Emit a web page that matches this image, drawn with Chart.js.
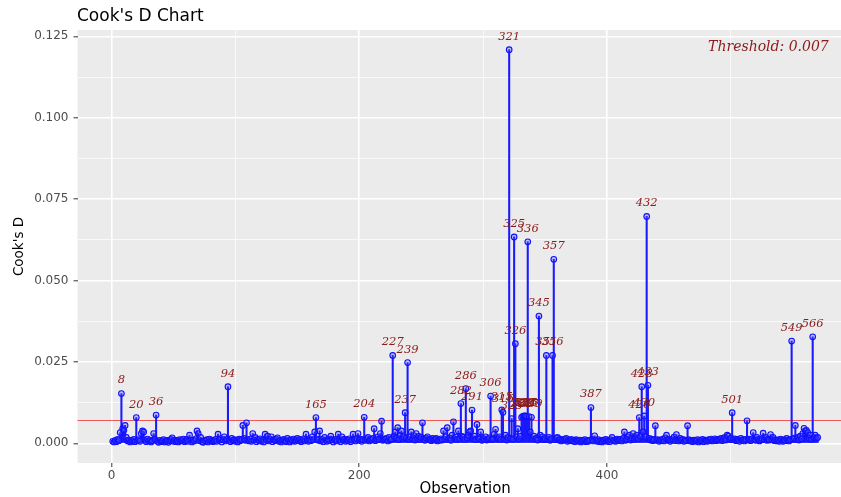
<!DOCTYPE html>
<html>
<head>
<meta charset="utf-8">
<script src="https://cdn.jsdelivr.net/npm/chart.js@4"></script>
<style>
html, body { margin: 0; padding: 0; background: #fff; overflow: hidden; }
#wrap { width: 858px; height: 497px; }
</style>
</head>
<body>
<div id="wrap"><canvas id="cooksd" width="858" height="497"></canvas></div>
<script>
// Cook's distance per observation (observation = index + 1)
var cooksD = [
  0.0006, 0.0004, 0.0009, 0.0005, 0.0012, 0.0008, 0.0033, 0.0153, 0.0045, 0.0040,
  0.0055, 0.0018, 0.0007, 0.0010, 0.0004, 0.0009, 0.0006, 0.0012, 0.0005, 0.0079,
  0.0008, 0.0011, 0.0006, 0.0030, 0.0038, 0.0035, 0.0009, 0.0005, 0.0013, 0.0007,
  0.0010, 0.0004, 0.0008, 0.0030, 0.0012, 0.0087, 0.0006, 0.0003, 0.0009, 0.0005,
  0.0007, 0.0011, 0.0004, 0.0006, 0.0009, 0.0003, 0.0008, 0.0012, 0.0017, 0.0006,
  0.0010, 0.0005, 0.0008, 0.0004, 0.0011, 0.0007, 0.0009, 0.0013, 0.0005, 0.0008,
  0.0012, 0.0006, 0.0025, 0.0009, 0.0004, 0.0010, 0.0007, 0.0014, 0.0038, 0.0030,
  0.0008, 0.0018, 0.0005, 0.0003, 0.0009, 0.0006, 0.0011, 0.0004, 0.0013, 0.0007,
  0.0010, 0.0005, 0.0008, 0.0012, 0.0006, 0.0028, 0.0009, 0.0014, 0.0004, 0.0011,
  0.0020, 0.0007, 0.0012, 0.0174, 0.0009, 0.0005, 0.0015, 0.0008, 0.0011, 0.0006,
  0.0010, 0.0004, 0.0013, 0.0008, 0.0012, 0.0055, 0.0015, 0.0009, 0.0063, 0.0011,
  0.0007, 0.0013, 0.0006, 0.0030, 0.0010, 0.0018, 0.0005, 0.0012, 0.0008, 0.0014,
  0.0006, 0.0010, 0.0004, 0.0028, 0.0009, 0.0022, 0.0007, 0.0012, 0.0020, 0.0005,
  0.0011, 0.0008, 0.0013, 0.0017, 0.0006, 0.0010, 0.0004, 0.0009, 0.0012, 0.0007,
  0.0005, 0.0015, 0.0009, 0.0004, 0.0011, 0.0007, 0.0013, 0.0006, 0.0010, 0.0015,
  0.0008, 0.0012, 0.0005, 0.0009, 0.0014, 0.0007, 0.0028, 0.0010, 0.0006, 0.0012,
  0.0008, 0.0020, 0.0011, 0.0035, 0.0079, 0.0013, 0.0009, 0.0038, 0.0007, 0.0012,
  0.0005, 0.0018, 0.0010, 0.0006, 0.0013, 0.0008, 0.0022, 0.0011, 0.0004, 0.0009,
  0.0012, 0.0007, 0.0028, 0.0010, 0.0005, 0.0020, 0.0009, 0.0013, 0.0006, 0.0011,
  0.0008, 0.0014, 0.0005, 0.0010, 0.0028, 0.0012, 0.0007, 0.0015, 0.0030, 0.0009,
  0.0013, 0.0006, 0.0011, 0.0080, 0.0009, 0.0014, 0.0018, 0.0007, 0.0012, 0.0010,
  0.0015, 0.0045, 0.0008, 0.0013, 0.0020, 0.0011, 0.0030, 0.0068, 0.0009, 0.0014,
  0.0012, 0.0015, 0.0007, 0.0018, 0.0010, 0.0013, 0.0270, 0.0022, 0.0035, 0.0016,
  0.0048, 0.0011, 0.0025, 0.0038, 0.0014, 0.0020, 0.0094, 0.0017, 0.0248, 0.0012,
  0.0019, 0.0035, 0.0013, 0.0024, 0.0010, 0.0030, 0.0015, 0.0021, 0.0012, 0.0018,
  0.0063, 0.0014, 0.0009, 0.0016, 0.0020, 0.0011, 0.0013, 0.0008, 0.0015, 0.0010,
  0.0012, 0.0015, 0.0007, 0.0011, 0.0009, 0.0014, 0.0010, 0.0038, 0.0013, 0.0020,
  0.0048, 0.0012, 0.0016, 0.0009, 0.0025, 0.0066, 0.0014, 0.0019, 0.0011, 0.0038,
  0.0015, 0.0122, 0.0021, 0.0018, 0.0012, 0.0168, 0.0016, 0.0025, 0.0035, 0.0038,
  0.0102, 0.0014, 0.0022, 0.0011, 0.0058, 0.0016, 0.0013, 0.0035, 0.0009, 0.0015,
  0.0012, 0.0020, 0.0010, 0.0014, 0.0017, 0.0145, 0.0011, 0.0015, 0.0028, 0.0043,
  0.0013, 0.0016, 0.0020, 0.0012, 0.0103, 0.0095, 0.0014, 0.0025, 0.0010, 0.0018,
  0.1209, 0.0015, 0.0076, 0.0012, 0.0634, 0.0306, 0.0020, 0.0045, 0.0013, 0.0022,
  0.0080, 0.0083, 0.0084, 0.0084, 0.0083, 0.0619, 0.0082, 0.0035, 0.0080, 0.0014,
  0.0022, 0.0012, 0.0016, 0.0010, 0.0391, 0.0025, 0.0013, 0.0020, 0.0011, 0.0015,
  0.0270, 0.0012, 0.0018, 0.0009, 0.0014, 0.0270, 0.0565, 0.0011, 0.0016, 0.0018,
  0.0010, 0.0013, 0.0007, 0.0011, 0.0009, 0.0012, 0.0015, 0.0006, 0.0010, 0.0008,
  0.0012, 0.0007, 0.0009, 0.0005, 0.0011, 0.0008, 0.0006, 0.0010, 0.0004, 0.0009,
  0.0007, 0.0011, 0.0005, 0.0008, 0.0006, 0.0010, 0.0110, 0.0012, 0.0007, 0.0023,
  0.0009, 0.0006, 0.0011, 0.0005, 0.0008, 0.0004, 0.0010, 0.0007, 0.0012, 0.0006,
  0.0009, 0.0005, 0.0011, 0.0018, 0.0007, 0.0010, 0.0006, 0.0013, 0.0008, 0.0011,
  0.0012, 0.0007, 0.0015, 0.0035, 0.0009, 0.0013, 0.0020, 0.0025, 0.0010, 0.0016,
  0.0030, 0.0012, 0.0018, 0.0025, 0.0014, 0.0079, 0.0022, 0.0174, 0.0035, 0.0084,
  0.0020, 0.0697, 0.0178, 0.0015, 0.0010, 0.0013, 0.0008, 0.0012, 0.0054, 0.0009,
  0.0011, 0.0006, 0.0010, 0.0008, 0.0013, 0.0007, 0.0017, 0.0025, 0.0009, 0.0012,
  0.0006, 0.0010, 0.0014, 0.0019, 0.0008, 0.0027, 0.0011, 0.0007, 0.0015, 0.0009,
  0.0012, 0.0006, 0.0010, 0.0008, 0.0054, 0.0011, 0.0007, 0.0009, 0.0005, 0.0010,
  0.0008, 0.0006, 0.0011, 0.0004, 0.0009, 0.0007, 0.0012, 0.0005, 0.0010, 0.0008,
  0.0006, 0.0011, 0.0009, 0.0013, 0.0007, 0.0010, 0.0014, 0.0008, 0.0012, 0.0009,
  0.0011, 0.0015, 0.0008, 0.0013, 0.0018, 0.0010, 0.0025, 0.0022, 0.0012, 0.0016,
  0.0094, 0.0011, 0.0014, 0.0008, 0.0012, 0.0010, 0.0006, 0.0015, 0.0009, 0.0011,
  0.0007, 0.0012, 0.0069, 0.0010, 0.0013, 0.0008, 0.0014, 0.0033, 0.0011, 0.0009,
  0.0018, 0.0012, 0.0007, 0.0010, 0.0014, 0.0031, 0.0011, 0.0018, 0.0009, 0.0013,
  0.0010, 0.0027, 0.0012, 0.0018, 0.0008, 0.0011, 0.0007, 0.0010, 0.0006, 0.0013,
  0.0009, 0.0006, 0.0011, 0.0008, 0.0015, 0.0010, 0.0007, 0.0012, 0.0314, 0.0013,
  0.0016, 0.0055, 0.0012, 0.0018, 0.0010, 0.0022, 0.0014, 0.0030, 0.0046, 0.0038,
  0.0040, 0.0033, 0.0015, 0.0025, 0.0012, 0.0327, 0.0018, 0.0025, 0.0015, 0.0018
];
var threshold = 0.007;

var xTicks = [0, 100, 200, 300, 400, 500];
var xTickLabels = ['0', '', '200', '', '400', ''];
var yTicks = [0, 0.0125, 0.025, 0.0375, 0.05, 0.0625, 0.075, 0.0875, 0.1, 0.1125, 0.125];
var yTickLabels = ['0.000', '', '0.025', '', '0.050', '', '0.075', '', '0.100', '', '0.125'];

var points = cooksD.map(function(v, i) { return { x: i + 1, y: v }; });

var ggLook = {
    id: 'ggLook',
    beforeDraw: function(chart) {
        var ctx = chart.ctx, a = chart.chartArea;
        ctx.save();
        ctx.fillStyle = '#ffffff';
        ctx.fillRect(0, 0, chart.width, chart.height);
        ctx.fillStyle = '#EBEBEB';
        ctx.fillRect(a.left, a.top, a.right - a.left, a.bottom - a.top);
        ctx.restore();
    },
    beforeDatasetsDraw: function(chart) {
        var ctx = chart.ctx, a = chart.chartArea;
        var y = chart.scales.y.getPixelForValue(threshold);
        ctx.save();
        ctx.strokeStyle = 'rgba(240,40,40,0.75)';
        ctx.lineWidth = 1.2;
        ctx.beginPath();
        ctx.moveTo(a.left, y);
        ctx.lineTo(a.right, y);
        ctx.stroke();
        ctx.restore();
    },
    afterDatasetsDraw: function(chart) {
        var ctx = chart.ctx;
        var xs = chart.scales.x, ys = chart.scales.y;
        ctx.save();
        ctx.font = 'italic 11.5px "DejaVu Serif"';
        ctx.fillStyle = '#8B1A1A';
        ctx.textAlign = 'center';
        ctx.textBaseline = 'middle';
        cooksD.forEach(function(v, i) {
            if (v > threshold) {
                ctx.fillText(String(i + 1), xs.getPixelForValue(i + 1), ys.getPixelForValue(v) - 13);
            }
        });
        ctx.restore();
    },
    afterDraw: function(chart) {
        var ctx = chart.ctx, a = chart.chartArea;
        ctx.save();
        ctx.fillStyle = '#000000';
        ctx.textBaseline = 'middle';
        ctx.textAlign = 'left';
        ctx.font = '17px "DejaVu Sans"';
        ctx.fillText("Cook's D Chart", 77, 17);

        ctx.textAlign = 'center';
        ctx.font = '15px "DejaVu Sans"';
        ctx.fillText('Observation', (a.left + a.right) / 2, 489);

        ctx.translate(19, (a.top + a.bottom) / 2);
        ctx.rotate(-Math.PI / 2);
        ctx.font = '13.5px "DejaVu Sans"';
        ctx.fillText("Cook's D", 0, 0);
        ctx.restore();

        ctx.save();
        var label = 'Threshold: ' + threshold;
        ctx.font = 'italic 14px "DejaVu Serif"';
        var w = ctx.measureText(label).width;
        ctx.fillStyle = '#8B1A1A';
        ctx.textAlign = 'right';
        ctx.textBaseline = 'middle';
        ctx.fillText(label, a.right - 0.2 * w, a.top + 17);
        ctx.restore();
    }
};

var ctx1 = document.getElementById('cooksd').getContext('2d');

var cookschart = new Chart(ctx1, {
    type: 'bar',
    data: {
        datasets: [
            {
                type: 'scatter',
                data: points,
                pointStyle: 'circle',
                pointRadius: 2.8,
                borderWidth: 1.1,
                borderColor: '#1010ff',
                backgroundColor: 'rgba(80,80,255,0.3)',
                order: 1
            },
            {
                type: 'bar',
                data: points,
                backgroundColor: '#1a1aff',
                barThickness: 1.4,
                grouped: false,
                order: 2
            }
        ]
    },
    options: {
        responsive: false,
        animation: false,
        devicePixelRatio: 1,
        layout: { padding: { left: 0, top: 30, right: 2, bottom: 0 } },
        plugins: {
            legend: { display: false },
            tooltip: { enabled: false }
        },
        scales: {
            x: {
                type: 'linear',
                offset: false,
                min: -27.45,
                max: 598.45,
                afterBuildTicks: function(scale) {
                    scale.ticks = xTicks.map(function(v) { return { value: v }; });
                },
                afterFit: function(scale) { scale.height = 34; },
                border: { display: false },
                grid: {
                    offset: false,
                    color: function(c) { return xTickLabels[c.index] ? '#ffffff' : 'rgba(255,255,255,0.85)'; },
                    lineWidth: function(c) { return xTickLabels[c.index] ? 1.6 : 0.8; },
                    tickColor: function(c) { return xTickLabels[c.index] ? '#333333' : 'rgba(0,0,0,0)'; },
                    tickWidth: 1,
                    tickLength: 4
                },
                ticks: {
                    autoSkip: false,
                    maxRotation: 0,
                    padding: 2,
                    color: '#4D4D4D',
                    font: { family: 'DejaVu Sans', size: 12 },
                    callback: function(value, index) { return xTickLabels[index]; }
                }
            },
            y: {
                type: 'linear',
                min: -0.00605,
                max: 0.12695,
                afterBuildTicks: function(scale) {
                    scale.ticks = yTicks.map(function(v) { return { value: v }; });
                },
                afterFit: function(scale) { scale.width = 77.5; },
                border: { display: false },
                grid: {
                    color: function(c) { return yTickLabels[c.index] ? '#ffffff' : 'rgba(255,255,255,0.85)'; },
                    lineWidth: function(c) { return yTickLabels[c.index] ? 1.6 : 0.8; },
                    tickColor: function(c) { return yTickLabels[c.index] ? '#333333' : 'rgba(0,0,0,0)'; },
                    tickWidth: 1,
                    tickLength: 4
                },
                ticks: {
                    autoSkip: false,
                    padding: 5,
                    color: '#4D4D4D',
                    font: { family: 'DejaVu Sans', size: 12 },
                    callback: function(value, index) { return yTickLabels[index]; }
                }
            }
        }
    },
    plugins: [ggLook]
});
</script>
</body>
</html>
